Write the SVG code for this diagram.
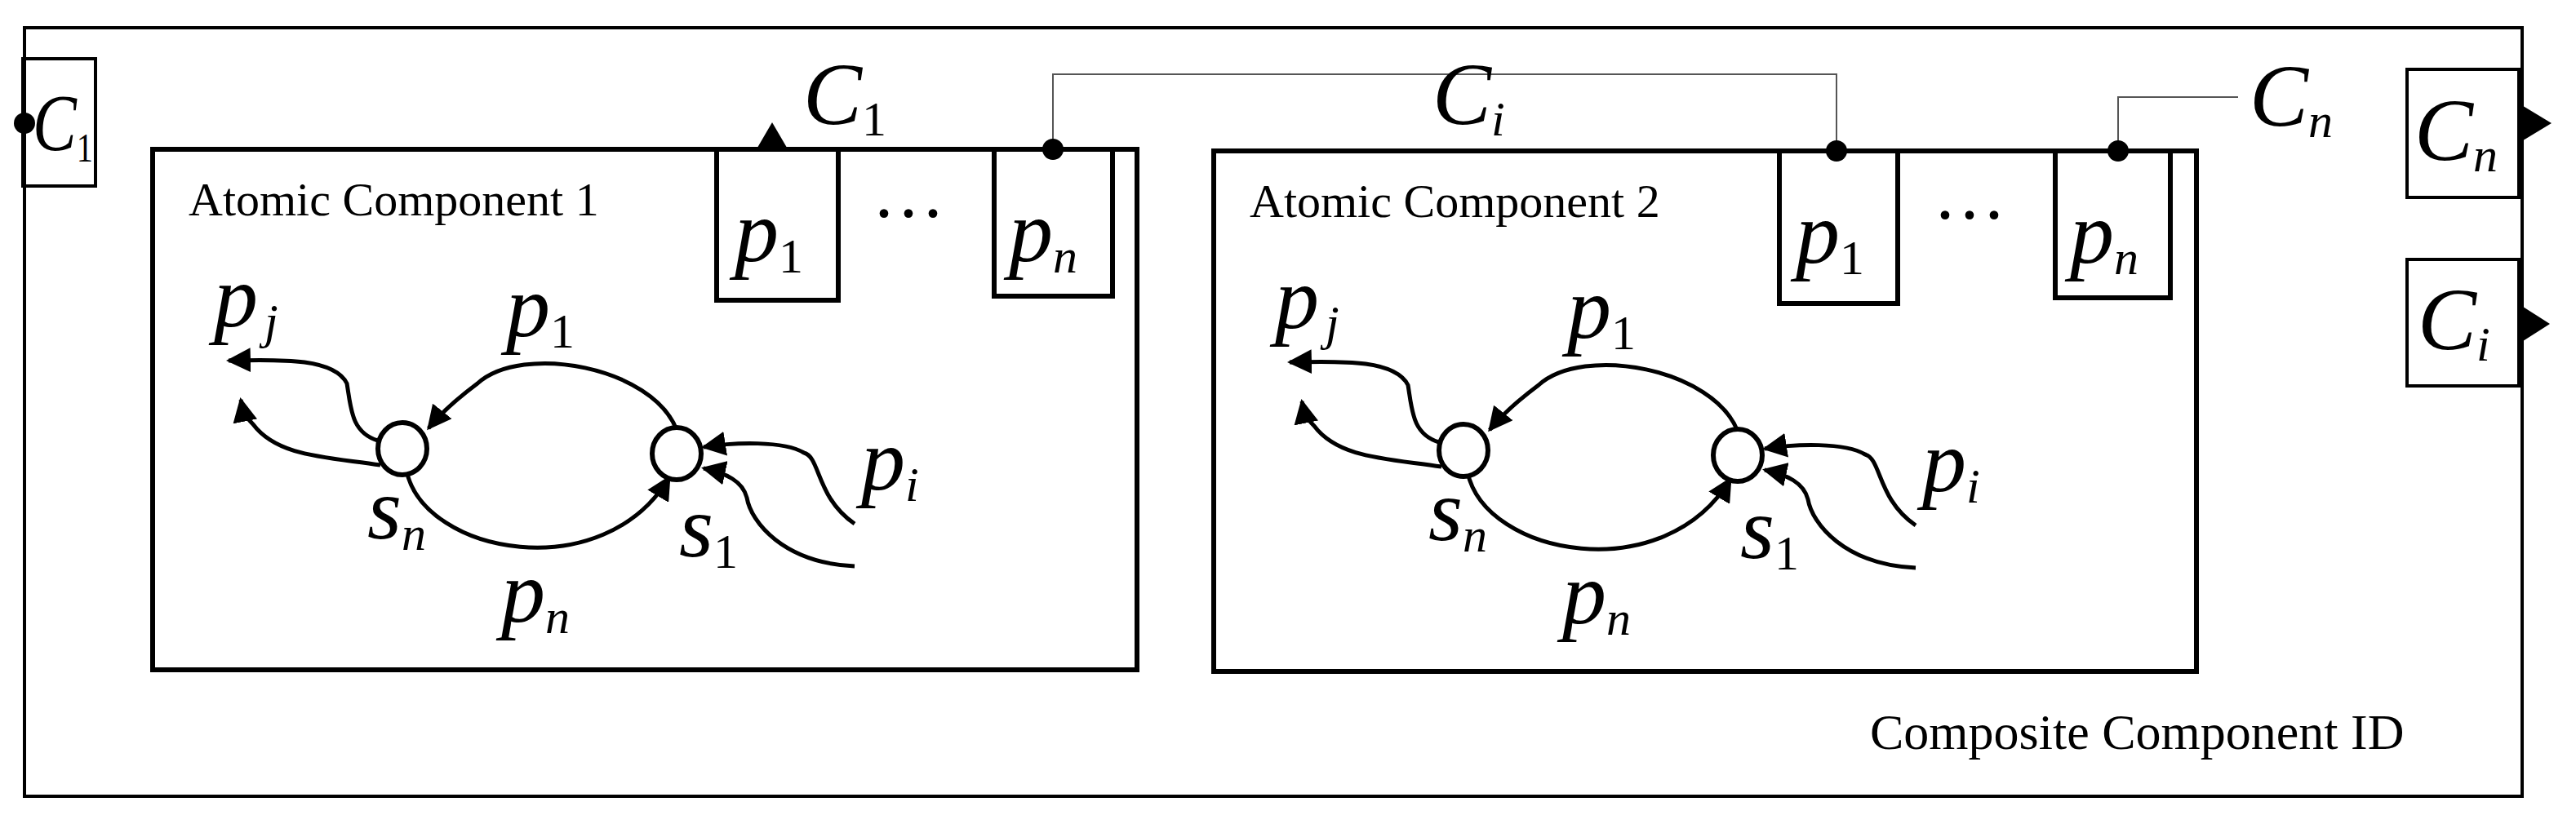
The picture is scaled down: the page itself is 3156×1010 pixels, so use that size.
<svg xmlns="http://www.w3.org/2000/svg" width="3156" height="1010" viewBox="0 0 3156 1010">
<defs>
<style>
.b{fill:#fff;stroke:#000;stroke-width:6}
.o{fill:none;stroke:#000;stroke-width:4}
.t{font-family:"Liberation Serif","Times New Roman",serif;font-size:58px;fill:#000}
.m{font-family:"Liberation Serif","Times New Roman",serif;font-style:italic;font-size:108px;fill:#000}
.s{font-size:60px}
.u{font-style:normal}
.c{fill:none;stroke:#000;stroke-width:5}
.w{fill:none;stroke:#555;stroke-width:2}
.d{font-family:"Liberation Serif",serif;font-size:90px;fill:#000}
</style>
<marker id="a2" viewBox="0 0 10 10" refX="9" refY="5" markerWidth="30" markerHeight="30" orient="auto" markerUnits="userSpaceOnUse"><path d="M0,0 L10,5 L0,10 z" fill="#000"/></marker>
<g id="sm">
<path class="c" d="M829,527 C800,450 640,420 585,470 Q545,500 525,525" marker-end="url(#a2)"/>
<path class="c" d="M498,577 C520,680 740,720 820,585" marker-end="url(#a2)"/>
<path class="c" d="M463,540 C430,530 430,500 425,470 C410,440 350,440 280,442" marker-end="url(#a2)"/>
<path class="c" d="M466,570 C400,560 340,560 310,520 C300,510 298,505 295,490" marker-end="url(#a2)"/>
<path class="c" d="M1047,642 C1000,610 1005,560 985,555 C960,540 900,542 862,548" marker-end="url(#a2)"/>
<path class="c" d="M1047,694 C960,690 920,640 915,610 C910,590 890,580 862,574" marker-end="url(#a2)"/>
<ellipse class="b" cx="493" cy="550" rx="30" ry="32"/>
<ellipse class="b" cx="829" cy="556" rx="30" ry="32"/>
<text class="m" x="262" y="400">p<tspan class="s" dx="8" dy="14">j</tspan></text>
<text class="m" x="620" y="412">p<tspan class="s u" dy="14">1</tspan></text>
<text class="m" x="450" y="660">s<tspan class="s" dy="14">n</tspan></text>
<text class="m" x="832" y="682">s<tspan class="s u" dy="14">1</tspan></text>
<text class="m" x="1055" y="600">p<tspan class="s" dy="14">i</tspan></text>
<text class="m" x="614" y="762">p<tspan class="s" dy="14">n</tspan></text>
</g>
</defs>
<rect width="3156" height="1010" fill="#fff"/>
<g id="composite">
<rect class="o" x="30" y="34" width="3060" height="942"/>
<text class="t" x="2291" y="918" style="font-size:62px">Composite Component ID</text>
</g>
<g id="connectors">
<polyline class="w" points="1290,183 1290,91 2250,91 2250,185"/>
<polyline class="w" points="2595,185 2595,119 2742,119"/>
</g>
<g id="c1-port">
<rect class="o" x="28" y="72" width="89" height="156"/>
<circle cx="30" cy="151" r="13" fill="#000"/>
<text class="m" x="40" y="184" style="font-size:100px" textLength="74" lengthAdjust="spacingAndGlyphs">C<tspan class="s u" dy="14" style="font-size:50px">1</tspan></text>
</g>
<g id="cn-port">
<rect class="o" x="2949" y="85" width="137" height="157"/>
<path d="M3088,128 L3126,151 L3088,174 z" fill="#000"/>
<text class="m" x="2958" y="196">C<tspan class="s" dy="14">n</tspan></text>
</g>
<g id="ci-port">
<rect class="o" x="2949" y="318" width="137" height="155"/>
<path d="M3088,374 L3124,397 L3088,420 z" fill="#000"/>
<text class="m" x="2962" y="428">C<tspan class="s" dy="14">i</tspan></text>
</g>
<g id="atomic1">
<rect class="b" x="187" y="183" width="1206" height="638"/>
<text class="t" x="231" y="264">Atomic Component 1</text>
<rect class="b" x="878" y="183" width="149" height="185"/>
<rect class="b" x="1218" y="183" width="145" height="180"/>
<text class="m" x="900" y="320">p<tspan class="s u" dy="14">1</tspan></text>
<text class="m" x="1236" y="320">p<tspan class="s" dy="14">n</tspan></text>
<text class="d" x="1068" y="292">···</text>
<path d="M925,186 L946,150 L967,186 z" fill="#000"/>
<text class="m" x="984" y="152">C<tspan class="s u" dy="14">1</tspan></text>
<circle cx="1290" cy="183" r="13" fill="#000"/>
<use href="#sm"/>
</g>
<g id="atomic2">
<rect class="b" x="1487" y="185" width="1204" height="638"/>
<text class="t" x="1531" y="266">Atomic Component 2</text>
<rect class="b" x="2180" y="185" width="145" height="187"/>
<rect class="b" x="2518" y="185" width="141" height="180"/>
<text class="m" x="2200" y="322">p<tspan class="s u" dy="14">1</tspan></text>
<text class="m" x="2536" y="322">p<tspan class="s" dy="14">n</tspan></text>
<text class="d" x="2368" y="294">···</text>
<circle cx="2250" cy="185" r="13" fill="#000"/>
<circle cx="2595" cy="185" r="13" fill="#000"/>
<text class="m" x="1755" y="152">C<tspan class="s" dy="14">i</tspan></text>
<text class="m" x="2756" y="154">C<tspan class="s" dy="14">n</tspan></text>
<use href="#sm" transform="translate(1300,2)"/>
</g>
</svg>
